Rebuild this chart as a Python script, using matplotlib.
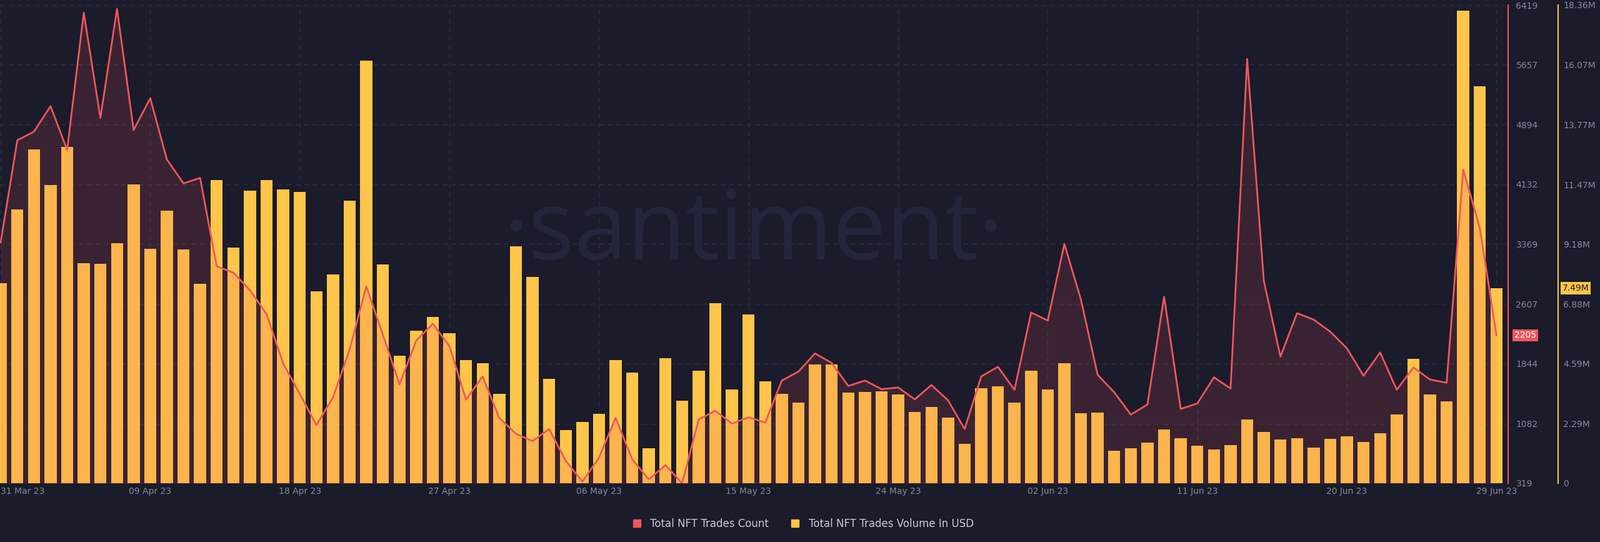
import numpy as np
import matplotlib.pyplot as plt
from matplotlib.lines import Line2D

START = np.datetime64("2023-03-31")

# daily NFT trades count
trades_count = [
    3391, 4693, 4803, 5129, 4571, 6321, 4978, 6370, 4823, 5230,
    4449, 4144, 4213, 3086, 3005, 2781, 2476, 1845, 1458, 1060,
    1418, 2028, 2830, 2211, 1580, 2138, 2353, 2069, 1385, 1682,
    1153, 950, 856, 1011, 604, 339, 645, 1153, 624, 368,
    551, 319, 1133, 1243, 1080, 1161, 1092, 1629, 1743, 1975,
    1853, 1560, 1629, 1519, 1540, 1389, 1572, 1377, 1011, 1682,
    1804, 1511, 2496, 2394, 3371, 2659, 1702, 1479, 1194, 1324,
    2699, 1267, 1336, 1670, 1527, 5731, 2903, 1934, 2488, 2406,
    2252, 2040, 1690, 1987, 1511, 1796, 1641, 1601, 4319, 3574,
    2205,
]

# daily NFT trades volume, millions of USD
trades_volume_m = [
    7.68, 10.51, 12.81, 11.45, 12.92, 8.44, 8.43, 9.22, 11.48, 9.00,
    10.47, 8.98, 7.66, 11.64, 9.05, 11.23, 11.65, 11.29, 11.18, 7.37,
    8.01, 10.85, 16.23, 8.39, 4.90, 5.85, 6.39, 5.77, 4.72, 4.62,
    3.43, 9.10, 7.92, 4.02, 2.03, 2.36, 2.66, 4.74, 4.25, 1.34,
    4.81, 3.17, 4.32, 6.92, 3.59, 6.47, 3.92, 3.44, 3.10, 4.56,
    4.56, 3.49, 3.50, 3.52, 3.42, 2.74, 2.94, 2.51, 1.51, 3.64,
    3.71, 3.10, 4.32, 3.61, 4.62, 2.69, 2.72, 1.26, 1.35, 1.56,
    2.07, 1.73, 1.43, 1.30, 1.47, 2.45, 1.96, 1.67, 1.74, 1.38,
    1.70, 1.79, 1.59, 1.92, 2.65, 4.78, 3.42, 3.15, 18.15, 15.25,
    7.49,
]

count_ticks = [319, 1082, 1844, 2607, 3369, 4132, 4894, 5657, 6419]
volume_ticks = [0, 2.29, 4.59, 6.88, 9.18, 11.47, 13.77, 16.07, 18.36]
volume_labels = ["0", "2.29M", "4.59M", "6.88M", "9.18M", "11.47M", "13.77M", "16.07M", "18.36M"]

BG = "#1a1b2b"
GRID = "#2b2e42"
TXT = "#868b9e"
RED = "#f0575c"
YEL = "#ffc54a"

days = np.arange(len(trades_count))
dates = START + days

fig = plt.figure(figsize=(25.6, 8.67), dpi=100, facecolor=BG)
ax = fig.add_axes([0, 94 / 867, 2413 / 2560, 765 / 867])
ax.set_facecolor(BG)
ax.bar(days, trades_volume_m, width=0.73, color=YEL, zorder=2)
ax.set_ylim(0, 18.36)
ax.set_xlim(-0.04, 90.7)
ax.text(0.5, 0.52, "·santiment·", transform=ax.transAxes, ha="center", va="center",
        fontsize=110, color="#23263a", family="Open Sans", zorder=1)

tick_days = days[::9]
ax.set_xticks(tick_days)
ax.set_xticklabels([str(d.astype(object).strftime("%d %b %y")) for d in dates[::9]])
for lab in ax.get_xticklabels():
    lab.set_color(TXT)
    lab.set_fontsize(10)
ax.get_xticklabels()[0].set_horizontalalignment("left")
ax.tick_params(axis="x", length=0, pad=4)
ax.tick_params(axis="y", left=False, labelleft=False)
# grid sits behind the bars (ticks of both scales share the same rows)
for v in tick_days:
    ax.axvline(v, color=GRID, lw=1, ls=(0, (5, 5)), zorder=0)
for v in volume_ticks:
    ax.axhline(v, color=GRID, lw=1, ls=(0, (5, 5)), zorder=0)
for s in ax.spines.values():
    s.set_visible(False)

ax2 = ax.twinx()
ax2.fill_between(days, count_ticks[0], trades_count, color=RED, alpha=0.15, lw=0, zorder=3)
ax2.plot(days, trades_count, color=RED, lw=2, zorder=4)
ax2.set_ylim(count_ticks[0], count_ticks[-1])
ax2.set_yticks(count_ticks)
ax2.tick_params(axis="y", colors=TXT, labelsize=10, length=0, pad=9)
for k, s in ax2.spines.items():
    s.set_visible(k == "right")
ax2.spines["right"].set_color(RED)
ax2.spines["right"].set_linewidth(1.5)
ax2.annotate(str(trades_count[-1]), xy=(1.0, trades_count[-1]),
             xycoords=("axes fraction", "data"), xytext=(7, 0), textcoords="offset points",
             va="center", ha="left", fontsize=10, color="white",
             bbox=dict(boxstyle="square,pad=0.2", fc=RED, ec="none"))

ax3 = ax.twinx()
ax3.set_ylim(0, 18.36)
ax3.set_yticks(volume_ticks)
ax3.set_yticklabels(volume_labels)
ax3.spines["right"].set_position(("axes", 2493 / 2413))
for k, s in ax3.spines.items():
    s.set_visible(k == "right")
ax3.spines["right"].set_color(YEL)
ax3.spines["right"].set_linewidth(1.5)
ax3.tick_params(axis="y", colors=TXT, labelsize=10, length=0, pad=6)
ax3.annotate(f"{trades_volume_m[-1]:.2f}M", xy=(2493 / 2413, trades_volume_m[-1]),
             xycoords=("axes fraction", "data"), xytext=(5, 0), textcoords="offset points",
             va="center", ha="left", fontsize=10, color="#1a1b2b",
             bbox=dict(boxstyle="square,pad=0.2", fc=YEL, ec="none"))

handles = [
    Line2D([], [], marker="s", ls="none", color=RED, markersize=9),
    Line2D([], [], marker="s", ls="none", color=YEL, markersize=9),
]
fig.legend(handles, ["Total NFT Trades Count", "Total NFT Trades Volume In USD"],
           loc="center", bbox_to_anchor=(0.5, 1 - 838 / 867), ncol=2, frameon=False,
           fontsize=12, labelcolor="#c9cbd8", handletextpad=0.3, columnspacing=1.5)

fig.savefig("out.png", dpi=100, facecolor=BG)
